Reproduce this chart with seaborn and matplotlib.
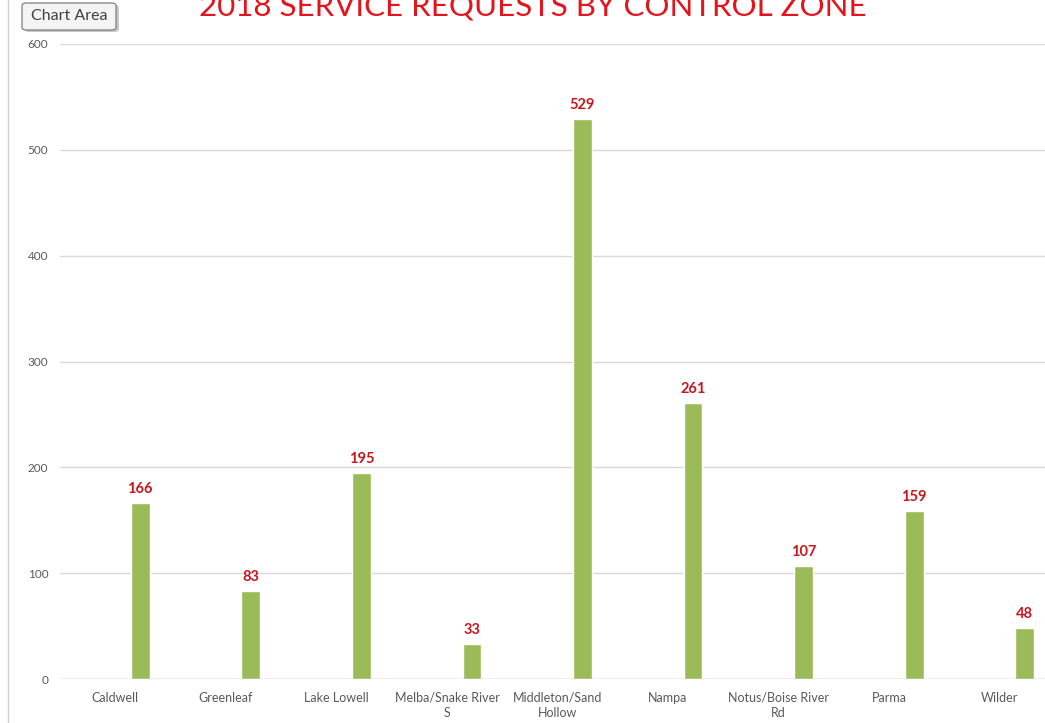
import matplotlib
matplotlib.use("Agg")
import matplotlib.pyplot as plt
import seaborn as sns
import numpy as np
from matplotlib.lines import Line2D
from matplotlib.patches import FancyBboxPatch

zones = ["Caldwell", "Greenleaf", "Lake Lowell", "Melba/Snake River S",
         "Middleton/Sand Hollow", "Nampa", "Notus/Boise River Rd", "Parma", "Wilder"]
tick_labels = ["Caldwell", "Greenleaf", "Lake Lowell", "Melba/Snake River\nS",
               "Middleton/Sand\nHollow", "Nampa", "Notus/Boise River\nRd", "Parma", "Wilder"]
requests = [166, 83, 195, 33, 529, 261, 107, 159, 48]
y_ticks = [0, 100, 200, 300, 400, 500, 600]
title = "2018 SERVICE REQUESTS BY CONTROL ZONE"

sns.set_style("white")
plt.rcParams["font.family"] = ["Lato", "DejaVu Sans"]

W, H = 1045, 723
fig = plt.figure(figsize=(W / 100, H / 100), dpi=100)
fig.patch.set_facecolor("white")
ax = fig.add_axes([60 / W, 44 / H, 995 / W, 635 / H])

sns.barplot(x=zones, y=requests, color="#9BBB59", saturation=1, width=0.17, ax=ax)

offset = 0.226
ax.set_xlim(-0.5 - offset, 8.5 - offset)
ax.set_ylim(0, 600)
ax.set_xticks(np.arange(len(zones)) - offset)
ax.set_xticklabels(tick_labels, fontsize=9, color="#595959", linespacing=1.35)
ax.set_yticks(y_ticks)
ax.set_yticklabels([str(v) for v in y_ticks], fontsize=8.5, color="#595959")
ax.tick_params(axis="both", length=0)
ax.tick_params(axis="x", pad=9)
ax.tick_params(axis="y", pad=8.5)
for s in ax.spines.values():
    s.set_visible(False)
ax.yaxis.grid(True, color="#D9D9D9", linewidth=1)
ax.set_axisbelow(True)
ax.axhline(0, color="#BFBFBF", linewidth=1, zorder=1)
ax.set_xlabel("")
ax.set_ylabel("")

ax.bar_label(ax.containers[0], padding=5, color="#C8161D", fontweight="bold", fontsize=10.5)

fig.text(533 / W, 1 - 16 / H, title, ha="center", va="baseline",
         fontsize=22.5, color="#E3141C")

# left border of the chart area
fig.add_artist(Line2D([7.5 / W, 7.5 / W], [0, 1], transform=fig.transFigure,
                      color="#D0D0D0", lw=1))

# "Chart Area" tooltip with shadow
def px_box(x0, y0, w, h, **kw):
    return FancyBboxPatch((x0 / W, 1 - (y0 + h) / H), w / W, h / H,
                          boxstyle="round,pad=0,rounding_size=0.004",
                          transform=fig.transFigure, **kw)

fig.add_artist(px_box(25, 5, 94, 27, fc="#9A9A9A", ec="none", alpha=0.55))
fig.add_artist(px_box(22, 3, 94, 27, fc="#F4F4F4", ec="#7F7F7F", lw=0.9))
fig.text(69 / W, 1 - 16.5 / H, "Chart Area", ha="center", va="center", fontsize=11.5,
         color="#404040")

fig.savefig("out.png", dpi=100)
